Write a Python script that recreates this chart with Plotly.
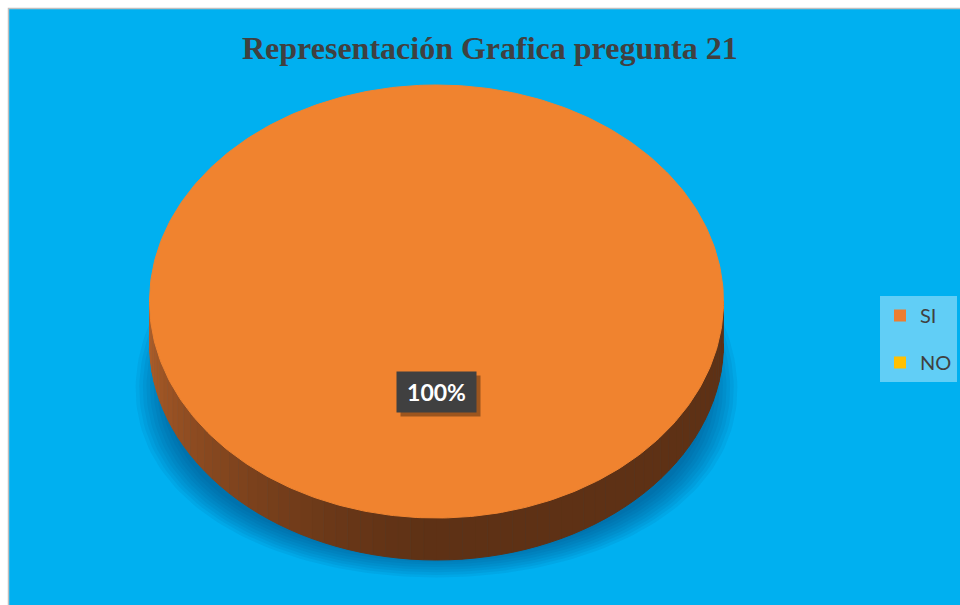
import numpy as np
import plotly.graph_objects as go

# ---- data ----
categories = ["SI", "NO"]
values = [100, 0]
colors = ["#ED7D31", "#FFC000"]
title_text = "Representación Grafica pregunta 21"

# ---- geometry (screen pixel space; body margin removed) ----
W, H = 960, 605
cx, cy = 436.5, 301.5
a, b = 287.0, 216.5
depth = 42.0

def shade(hex1, hex2, f):
    c1 = [int(hex1[i:i + 2], 16) for i in (1, 3, 5)]
    c2 = [int(hex2[i:i + 2], 16) for i in (1, 3, 5)]
    c = [round(c1[k] + (c2[k] - c1[k]) * f) for k in range(3)]
    return "#%02X%02X%02X" % tuple(c)

fig = go.Figure()

# soft perspective shadow under the pie
cys, bs, As, ks = cy + 58, 218.0, 298.0, 0.14
tt = np.linspace(0, 2 * np.pi, 240)
for k in range(9):
    s = 1.0 - 0.012 * k
    u = np.cos(tt)
    ys = cys + bs * s * u
    xs = cx + As * s * np.sin(tt) * (1 + ks * u)
    fig.add_trace(go.Scatter(x=xs, y=ys, mode="lines", fill="toself",
                             fillcolor="rgba(0,70,110,0.08)", line=dict(width=0),
                             hoverinfo="skip", showlegend=False))

total = float(sum(values))
top_colors = {"#ED7D31": "#F0832F", "#FFC000": "#FFC20A"}
wall_light = {"#ED7D31": "#B2602A", "#FFC000": "#B08A10"}
wall_dark = {"#ED7D31": "#5E3115", "#FFC000": "#6A5208"}

start = 0.0
for cat, v, col in zip(categories, values, colors):
    if v <= 0:
        continue
    frac = v / total
    # start at 12 o'clock, clockwise: point = (cx + a*sin(th), cy - b*cos(th))
    th0 = 2 * np.pi * start
    th1 = 2 * np.pi * (start + frac)
    start += frac

    lo = max(th0, np.pi / 2)
    hi = min(th1, 3 * np.pi / 2)
    if hi > lo:
        n = 70
        edges = np.linspace(lo, hi, n + 1)
        for i in range(n):
            t = np.linspace(edges[i], edges[i + 1], 6)
            xs = cx + a * np.sin(t)
            ys = cy - b * np.cos(t)
            px = np.concatenate([xs, xs[::-1]])
            py = np.concatenate([ys, ys[::-1] + depth])
            mid = 0.5 * (edges[i] + edges[i + 1])
            f = 0.0 if mid <= np.pi else ((mid - np.pi) / (np.pi / 2)) ** 1.3
            c = shade(wall_dark[col], wall_light[col], f)
            fig.add_trace(go.Scatter(x=px, y=py, mode="lines", fill="toself",
                                     fillcolor=c, line=dict(color=c, width=1),
                                     hoverinfo="skip", showlegend=False))

    t = np.linspace(th0, th1, 400)
    xs = cx + a * np.sin(t)
    ys = cy - b * np.cos(t)
    if frac < 0.9999:
        xs = np.concatenate([[cx], xs, [cx]])
        ys = np.concatenate([[cy], ys, [cy]])
    fig.add_trace(go.Scatter(x=xs, y=ys, mode="lines", fill="toself",
                             fillcolor=top_colors[col],
                             line=dict(color=top_colors[col], width=1),
                             hoverinfo="skip", showlegend=False))

# legend entries
for cat, col in zip(categories, colors):
    fig.add_trace(go.Scatter(x=[None], y=[None], mode="markers", name=cat,
                             legendgroup=cat,
                             marker=dict(symbol="square", size=11, color=col)))

shapes = [
    dict(type="rect", xref="x", yref="y", x0=8.5, y0=8.5, x1=W + 5, y1=H + 5,
         fillcolor="#00B0F0", line=dict(color="#BFBFBF", width=1.5), layer="below"),
]

pct = [round(100 * v / total) for v in values]
lab_x, lab_y = cx, 392
annotations = [
    dict(x=lab_x + 4, y=lab_y + 4, xref="x", yref="y", text=" ", showarrow=False,
         width=77, height=38, bgcolor="rgba(0,0,0,0.35)"),
    dict(x=lab_x, y=lab_y, xref="x", yref="y", text="<b>%d%%</b>" % pct[0],
         showarrow=False, width=77, height=38, bgcolor="#404040",
         font=dict(family="Lato, Open Sans, sans-serif", size=23, color="white")),
    dict(x=489.5, y=48, xref="x", yref="y", text="<b>%s</b>" % title_text,
         showarrow=False, font=dict(family="Liberation Serif, Times New Roman, serif",
                                    size=32, color="#404040")),
]

fig.update_layout(
    width=W, height=H,
    margin=dict(l=0, r=0, t=0, b=0),
    paper_bgcolor="white", plot_bgcolor="white",
    xaxis=dict(range=[0, W], visible=False, fixedrange=True),
    yaxis=dict(range=[H, 0], visible=False, fixedrange=True),
    shapes=shapes,
    annotations=annotations,
    showlegend=True,
    hovermode=False,
    legend=dict(x=880 / W, y=1 - 296 / H, xanchor="left", yanchor="top",
                bgcolor="rgba(255,255,255,0.38)", borderwidth=0,
                font=dict(family="Lato, Open Sans, sans-serif", size=20, color="#404040"),
                tracegroupgap=18, traceorder="grouped",
                itemsizing="constant"),
)

fig.write_html(
    "out.html",
    config={"displayModeBar": False},
    post_script="document.body.style.margin='0';document.body.style.overflow='hidden';"
                "document.documentElement.style.overflow='hidden';",
)
